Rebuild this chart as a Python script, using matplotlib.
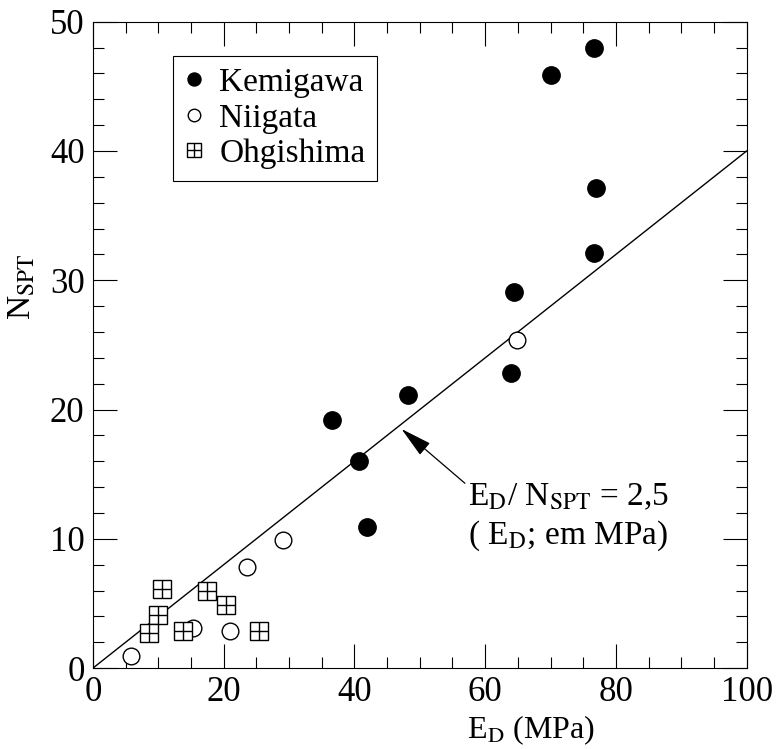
import numpy as np
import matplotlib
matplotlib.use("Agg")
import matplotlib.pyplot as plt
from matplotlib.ticker import MultipleLocator
from matplotlib.legend_handler import HandlerTuple

plt.rcParams["font.family"] = ["Liberation Serif", "DejaVu Serif"]
plt.rcParams["mathtext.fontset"] = "stix"

# dados
kemi_x = [76.6, 70.0, 76.9, 76.6, 64.4, 63.9, 48.2, 36.5, 40.7, 42.0]
kemi_y = [48.0, 45.9, 37.1, 32.1, 29.1, 22.8, 21.1, 19.2, 16.0, 10.9]

niig_x = [64.9, 29.1, 23.6, 5.8, 15.3, 20.9]
niig_y = [25.4, 9.9, 7.8, 0.9, 3.1, 2.9]

ohgi_x = [10.5, 10.0, 8.5, 13.8, 17.4, 20.3, 25.4]
ohgi_y = [6.1, 4.1, 2.7, 2.9, 6.0, 4.9, 2.9]

ratio = 2.5  # E_D / N_SPT
line_x = np.array([0, 100])

fig = plt.figure(figsize=(7.81, 7.49), dpi=100)
ax = fig.add_axes([0.119, 0.108, 0.837, 0.863])

ax.plot(line_x, line_x / ratio, color="black", lw=1.0, zorder=1)

h1, = ax.plot(kemi_x, kemi_y, "o", ms=12.5, mfc="black", mec="black", ls="none", zorder=3)
h2, = ax.plot(niig_x, niig_y, "o", ms=12, mfc="white", mec="black", mew=1.0, ls="none", zorder=3)
h3a, = ax.plot(ohgi_x, ohgi_y, "s", ms=12.5, mfc="white", mec="black", mew=1.0, ls="none", zorder=3)
h3b, = ax.plot(ohgi_x, ohgi_y, "+", ms=12.5, mec="black", mew=1.0, ls="none", zorder=4)

leg = ax.legend([h1, h2, (h3a, h3b)], ["Kemigawa", "Niigata", "Ohgishima"],
                handler_map={tuple: HandlerTuple(ndivide=1)},
                loc="upper left", bbox_to_anchor=(0.122, 0.947), fontsize=24,
                markerscale=0.75, handlelength=0.6, handletextpad=0.45,
                labelspacing=0.15, borderpad=0.35, borderaxespad=0,
                fancybox=False, framealpha=1)
leg.get_frame().set_edgecolor("black")
leg.get_frame().set_linewidth(0.8)

ax.annotate("", xy=(47.2, 18.5), xytext=(56.9, 14.3),
            arrowprops=dict(arrowstyle="-|>,head_length=0.9,head_width=0.22",
                            color="black", lw=0.9, mutation_scale=22,
                            shrinkA=0, shrinkB=0))
ax.text(57.3, 13.2, r"E$_\mathrm{D}$/ N$_\mathrm{SPT}$ = 2,5", fontsize=24, va="center")
ax.text(57.3, 10.2, r"( E$_\mathrm{D}$; em MPa)", fontsize=24, va="center")

ax.set_xlim(0, 100)
ax.set_ylim(0, 50)
ax.xaxis.set_major_locator(MultipleLocator(20))
ax.xaxis.set_minor_locator(MultipleLocator(5))
ax.yaxis.set_major_locator(MultipleLocator(10))
ax.yaxis.set_minor_locator(MultipleLocator(2))
ax.tick_params(which="both", direction="in", top=True, right=True, labelsize=25, width=0.8)
ax.tick_params(which="major", length=17, pad=6)
ax.tick_params(which="minor", length=8)
for s in ax.spines.values():
    s.set_linewidth(0.8)

ax.set_xlabel(r"E$_\mathrm{D}$ (MPa)", fontsize=23)
ax.set_ylabel(r"N$_\mathrm{SPT}$", fontsize=24)
ax.yaxis.set_label_coords(-0.085, 0.59)
ax.xaxis.set_label_coords(0.67, -0.07)

fig.savefig("out.png", dpi=100)
